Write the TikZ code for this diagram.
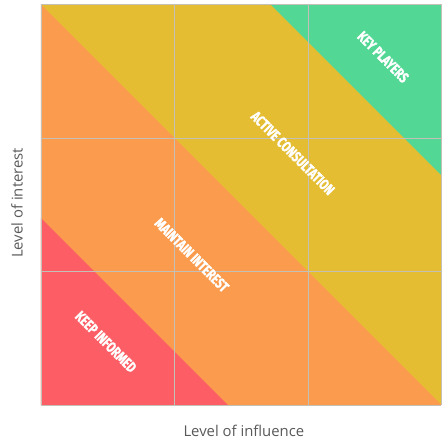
\documentclass[tikz,border=0pt]{standalone}
\usepackage{fontspec}
\setmainfont{Open Sans}
\newfontfamily\bandfont[FakeStretch=0.74,FakeBold=1.2]{Fira Sans}

\definecolor{keygreen}{HTML}{53D794}
\definecolor{activeyellow}{HTML}{E5BD33}
\definecolor{maintainorange}{HTML}{FB9B4D}
\definecolor{informred}{HTML}{FD5E66}
\definecolor{gridgray}{HTML}{C4C0B8}
\definecolor{axisgray}{HTML}{595959}

\begin{document}
\begin{tikzpicture}

        \useasboundingbox (-0.92,-0.9) rectangle (9.0,9.1);

        % bands
        \fill[activeyellow] (0,0) rectangle (9,9);
        \fill[keygreen] (5.16,9) -- (9,9) -- (9,5.16) -- cycle;
        \fill[maintainorange] (0,0) -- (0,9) -- (9,0) -- cycle;
        \fill[informred] (0,0) -- (0,4.2) -- (4.2,0) -- cycle;

        \draw[gridgray, line width=0.5pt] (0,0) grid[step=3] (9,9);

        \begin{scope}[every node/.style={text=white, rotate=-45, font=\bandfont\bfseries\fontsize{9.5}{11}\selectfont}]
          \node (key)      at (7.69,7.82) {KEY PLAYERS};
          \node (active)   at (5.66,5.66) {ACTIVE CONSULTATION};
          \node (maintain) at (3.39,3.37) {MAINTAIN INTEREST};
          \node (inform)   at (1.46,1.42) {KEEP INFORMED};
        \end{scope}

        \begin{scope}[every node/.style={text=axisgray, font=\fontsize{9.5}{11}\selectfont}]
          \node (influence) at (4.56,-0.58) {Level of influence};
          \node[rotate=90] (interest) at (-0.54,4.54) {Level of interest};
        \end{scope}

      \end{tikzpicture}
\end{document}
